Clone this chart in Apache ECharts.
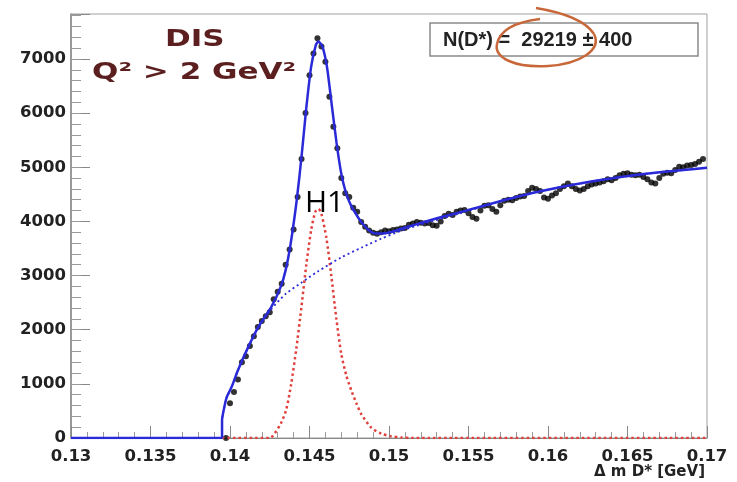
<!DOCTYPE html>
<html>
<head>
<meta charset="utf-8">
<script src="https://cdn.jsdelivr.net/npm/echarts@6/dist/echarts.min.js"></script>
<style>
html,body{margin:0;padding:0;background:#fff;}
#chart{width:737px;height:482px;}
</style>
</head>
<body>
<div id="chart"></div>
<script>
// Histogram of Delta m (D*) : bin centres start at binStart, width binWidth
const binStart = 0.13975;
const binWidth = 0.00025;
const counts = [
  0, 640, 850, 1080, 1400, 1510, 1700, 1880, 2050, 2160,
  2250, 2320, 2560, 2700, 2850, 3200, 3480, 3850, 4450, 5150,
  6000, 6700, 7100, 7380, 7230, 6950, 6300, 5750, 5350, 4800,
  4520, 4450, 4250, 4180, 3990, 3900, 3830, 3790, 3770, 3800,
  3830, 3820, 3840, 3850, 3870, 3880, 3940, 3960, 3990, 3975,
  3960, 3970, 3930, 3920, 4000, 4100, 4140, 4120, 4180, 4200,
  4210, 4150, 4080, 4050, 4200, 4290, 4300, 4230, 4180, 4300,
  4380, 4400, 4390, 4430, 4460, 4470, 4560, 4620, 4600, 4560,
  4440, 4420, 4480, 4520, 4600, 4650, 4700, 4650, 4600, 4570,
  4600, 4650, 4680, 4700, 4720, 4740, 4780, 4760, 4800, 4850,
  4880, 4890, 4860, 4850, 4860, 4820, 4780, 4720, 4700, 4800,
  4880, 4900, 4890, 4950, 5010, 5000, 5030, 5040, 5060, 5100,
  5150
];

// Full fit (signal + background)
const fitX = [0.13, 0.1395, 0.1395, 0.13965, 0.1398, 0.1401, 0.1405, 0.1411, 0.1418, 0.1426,
  0.1432, 0.1435, 0.1438, 0.1442, 0.1445, 0.1448, 0.1451, 0.1454, 0.14555, 0.1458,
  0.1461, 0.1464, 0.1467, 0.1470, 0.1473, 0.1476, 0.1480, 0.1483, 0.1489, 0.1495,
  0.1502, 0.1512, 0.1522, 0.1533, 0.1546, 0.1571, 0.1596, 0.1628, 0.1659, 0.17];
const fitY = [0, 0, 330, 580, 760, 940, 1250, 1650, 2060, 2420,
  2800, 3100, 3560, 4400, 5200, 6100, 6850, 7260, 7320, 7240,
  6850, 6150, 5450, 4880, 4520, 4300, 4100, 3970, 3800, 3775,
  3810, 3900, 3990, 4080, 4180, 4380, 4560, 4740, 4870, 4990];

// Background component
const bgX = [0.1395, 0.1395, 0.13965, 0.1398, 0.1401, 0.1405, 0.1411, 0.1418, 0.1426, 0.1435,
  0.1445, 0.1455, 0.1470, 0.1483, 0.1495, 0.1508, 0.1522, 0.1546, 0.1571, 0.1596,
  0.1628, 0.1659, 0.17];
const bgY = [0, 330, 580, 760, 940, 1250, 1650, 2040, 2380, 2660,
  2870, 3070, 3335, 3520, 3680, 3830, 3960, 4160, 4380, 4560,
  4740, 4870, 4990];

// Signal component
const sigX = [0.1395, 0.1425, 0.1427, 0.1432, 0.14354, 0.14385, 0.14417, 0.14448, 0.1448, 0.14511,
  0.14537, 0.14556, 0.14574, 0.14606, 0.14637, 0.14669, 0.147, 0.14732, 0.14763, 0.14795,
  0.14826, 0.14889, 0.14952, 0.15015, 0.15078, 0.1514, 0.17];
const sigY = [0, 0, 40, 270, 530, 1000, 1650, 2390, 3200, 3850,
  4180, 4230, 4150, 3700, 3000, 2200, 1550, 1150, 880, 640,
  440, 190, 80, 30, 10, 0, 0];

const xTickLabels = [0.13, 0.135, 0.14, 0.145, 0.15, 0.155, 0.16, 0.165, 0.17];
const yTickLabels = [0, 1000, 2000, 3000, 4000, 5000, 6000, 7000];

const pts = counts.map((c, i) => [binStart + i * binWidth, c]);
const zip = (xs, ys) => xs.map((x, i) => [x, ys[i]]);

const chart = echarts.init(document.getElementById('chart'), null, {renderer: 'canvas'});
const labelFont = {fontFamily: 'DejaVu Sans', fontWeight: 'bold', fontSize: 16.5, color: '#222'};

const loopStyle = {fill: 'none', stroke: '#c8683a', lineWidth: 2.5};
chart.setOption({
  animation: false,
  backgroundColor: '#fff',
  grid: {left: 71, right: 30, top: 14, bottom: 44, show: true, borderColor: '#a0a0a0', borderWidth: 1},
  xAxis: {
    type: 'value', min: 0.13, max: 0.17, interval: 0.005,
    axisLine: {show: true, onZero: false, lineStyle: {color: '#888', width: 1}},
    axisTick: {show: true, inside: true, length: 12, lineStyle: {color: '#888'}},
    minorTick: {show: true, splitNumber: 5, length: 6, lineStyle: {color: '#999'}},
    splitLine: {show: false},
    axisLabel: Object.assign({margin: 10, showMinLabel: true, showMaxLabel: true, hideOverlap: false,
      customValues: xTickLabels, formatter: v => String(Math.round(v * 1000) / 1000)}, labelFont)
  },
  yAxis: [{
    type: 'value', min: 0, max: 7830, interval: 1000,
    axisLine: {show: true, lineStyle: {color: '#888', width: 1.5}},
    axisTick: {show: true, inside: true, length: 19, lineStyle: {color: '#888'}},
    splitLine: {show: false},
    axisLabel: Object.assign({margin: 5, showMinLabel: true, showMaxLabel: true, customValues: yTickLabels,
      formatter: v => String(v)}, labelFont)
  }, {
    type: 'value', min: 0, max: 7830, interval: 200, position: 'left',
    axisLine: {show: false},
    axisTick: {show: true, inside: true, length: 10, lineStyle: {color: '#999'}},
    splitLine: {show: false},
    axisLabel: {show: false}
  }],
  series: [{
    type: 'scatter', data: pts, symbol: 'circle', symbolSize: 6,
    itemStyle: {color: '#000'}, z: 2
  }, {
    type: 'line', data: zip(sigX, sigY), showSymbol: false, smooth: 0.25,
    lineStyle: {color: '#e0403c', width: 2.5, type: [2.5, 3]}, z: 3
  }, {
    type: 'line', data: zip(bgX, bgY), showSymbol: false, smooth: 0.25,
    lineStyle: {color: '#2a2ad8', width: 1.8, type: [2, 3]}, z: 3
  }, {
    type: 'line', data: zip(fitX, fitY), showSymbol: false, smooth: 0.2,
    lineStyle: {color: '#2a2ad8', width: 2.5}, z: 4
  }],
  graphic: [
    {type: 'text', x: 165, y: 40, scaleX: 1.35, z: 10,
      style: {text: 'DIS', fontFamily: 'DejaVu Sans', fontWeight: 'bold', fontSize: 23, fill: '#5b1f1f', align: 'left', verticalAlign: 'middle'}},
    {type: 'text', x: 92, y: 73, scaleX: 1.35, z: 10,
      style: {text: 'Q² > 2 GeV²', fontFamily: 'DejaVu Sans', fontWeight: 'bold', fontSize: 23, fill: '#5b1f1f', align: 'left', verticalAlign: 'middle'}},
    {type: 'rect', z: 10, shape: {x: 430, y: 23, width: 268, height: 33},
      style: {fill: '#fff', stroke: '#8a8a8a', lineWidth: 1.5}},
    {type: 'text', x: 443, y: 40, z: 11,
      style: {text: 'N(D*) =  29219 ± 400', fontFamily: 'Liberation Sans', fontWeight: 'bold', fontSize: 20, fill: '#222', align: 'left', verticalAlign: 'middle'}},
    {type: 'bezierCurve', z: 12, shape: {x1: 536, y1: 8, cpx1: 560, cpy1: 12, cpx2: 585, cpy2: 20, x2: 594, y2: 34}, style: loopStyle},
    {type: 'bezierCurve', z: 12, shape: {x1: 594, y1: 34, cpx1: 602, cpy1: 50, cpx2: 580, cpy2: 64, x2: 548, y2: 66}, style: loopStyle},
    {type: 'bezierCurve', z: 12, shape: {x1: 548, y1: 66, cpx1: 515, cpy1: 68, cpx2: 494, cpy2: 58, x2: 497, y2: 44}, style: loopStyle},
    {type: 'bezierCurve', z: 12, shape: {x1: 497, y1: 44, cpx1: 500, cpy1: 30, cpx2: 515, cpy2: 22, x2: 540, y2: 19}, style: loopStyle},
    {type: 'text', x: 305, y: 203, z: 10,
      style: {text: 'H1', fontFamily: 'Open Sans', fontSize: 30, fill: '#000', align: 'left', verticalAlign: 'middle'}},
    {type: 'text', x: 705, y: 472, z: 10,
      style: {text: 'Δ m D* [GeV]', fontFamily: 'DejaVu Sans', fontWeight: 'bold', fontSize: 15, fill: '#222', align: 'right', verticalAlign: 'middle'}}
  ]
});
</script>
</body>
</html>
